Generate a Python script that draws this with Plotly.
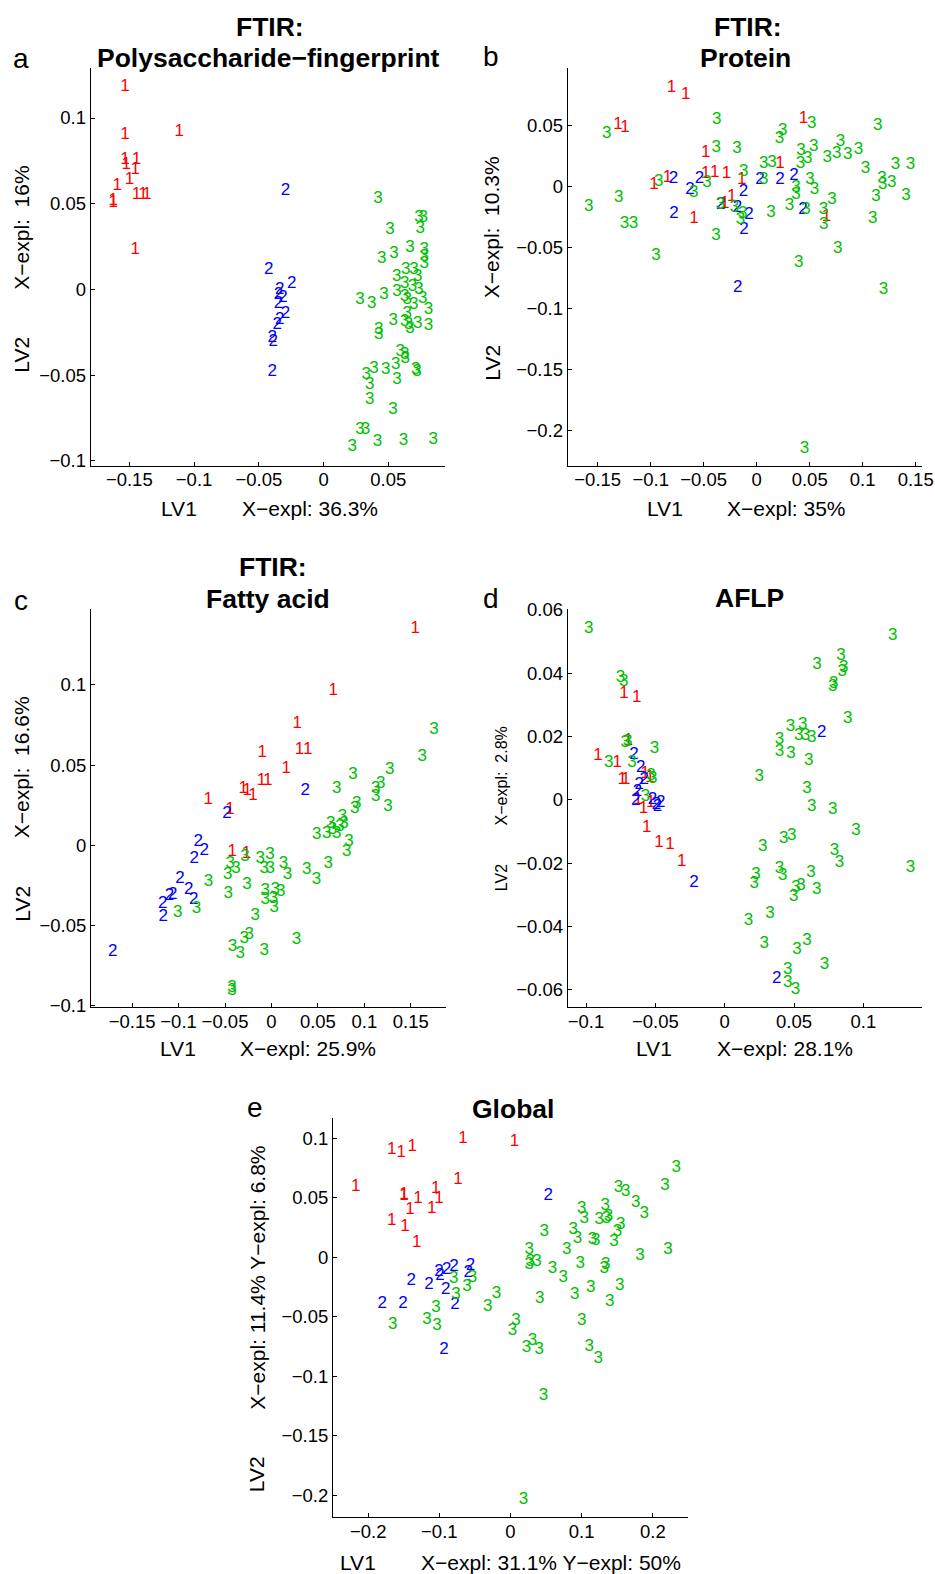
import plotly.graph_objects as go

W, H = 935, 1574

# ---------------- data (LV1, LV2 scores per class) ----------------
# Panel a: FTIR Polysaccharide-fingerprint
a1x = [-0.157, -0.157, -0.115, -0.157, -0.156, -0.148, -0.149, -0.1535, -0.163, -0.166, -0.166, -0.148, -0.143, -0.140, -0.149]
a1y = [0.118, 0.090, 0.092, 0.0754, 0.073, 0.0754, 0.0696, 0.0637, 0.0604, 0.0505, 0.052, 0.055, 0.055, 0.055, 0.0229]
a2x = [-0.033, -0.0459, -0.0283, -0.0374, -0.0385, -0.0385, -0.033, -0.0374, -0.0395, -0.0433, -0.0425, -0.0433, -0.035]
a2y = [0.0575, 0.0117, 0.0035, -0.0004, -0.0033, -0.0082, -0.014, -0.0179, -0.0208, -0.028, -0.0305, -0.048, -0.005]
a3x = [0.0384, 0.070, 0.0734, 0.071, 0.0477, 0.0631, 0.0507, 0.0412, 0.074, 0.074, 0.074, 0.0598, 0.0662, 0.0529, 0.069,
       0.059, 0.065, 0.053, 0.070, 0.043, 0.0245, 0.0335, 0.059, 0.061, 0.073, 0.066, 0.0773, 0.061, 0.0502, 0.059, 0.062,
       0.063, 0.069, 0.0773, 0.039, 0.039, 0.0555, 0.059, 0.0595, 0.052, 0.0353, 0.0444, 0.0676, 0.0685, 0.0293, 0.032,
       0.053, 0.032, 0.050, 0.0245, 0.0288, 0.0185, 0.038, 0.058, 0.081]
a3y = [0.053, 0.042, 0.042, 0.0356, 0.035, 0.0245, 0.021, 0.018, 0.023, 0.019, 0.015, 0.0117, 0.0117, 0.0074, 0.0074,
       0.0035, 0.0016, -0.0014, -0.0004, -0.0033, -0.0062, -0.0086, -0.0043, -0.0062, -0.0052, -0.0091, -0.0117, -0.014,
       -0.0185, -0.0189, -0.0208, -0.0227, -0.0202, -0.0214, -0.0237, -0.0262, -0.0363, -0.0383, -0.0402, -0.0437, -0.046,
       -0.0466, -0.047, -0.048, -0.05, -0.0558, -0.0529, -0.0645, -0.070, -0.082, -0.082, -0.092, -0.0888, -0.088, -0.0878]

# Panel b: FTIR Protein
b1x = [-0.0849, -0.0714, -0.1352, -0.1286, 0.0396, -0.0525, -0.0525, -0.044, -0.033, -0.0186, -0.0887, -0.1013, 0.0176, -0.028, -0.0346, -0.0635, 0.0613]
b1y = [0.0812, 0.0749, 0.0503, 0.0484, 0.0553, 0.0279, 0.0107, 0.0115, 0.0107, 0.0052, 0.0071, 0.0011, 0.0189, -0.0085, -0.014, -0.0263, -0.0249]
b2x = [-0.083, -0.0585, -0.0673, -0.0824, -0.0013, 0.0176, 0.0308, -0.017, -0.0384, -0.0226, -0.0116, -0.0164, 0.0393, -0.0223]
b2y = [0.0066, 0.006, -0.0025, -0.0222, 0.0052, 0.0052, 0.0088, -0.0044, -0.0153, -0.018, -0.0235, -0.0358, -0.0189, -0.0829]
b3x = [-0.1459, -0.0421, -0.0427, -0.023, 0.0475, 0.1097, 0.0201, 0.017, 0.0374, 0.0494, 0.0437, 0.0368, 0.0745, 0.062,
       0.0711, 0.0814, 0.0915, 0.0022, 0.0101, 0.0981, 0.1264, 0.1406, -0.0167, -0.0969, -0.0513, -0.0638, 0.0022, 0.0459,
       0.05, 0.0327, 0.0327, 0.1138, 0.1145, 0.123, 0.1082, 0.1365, -0.1346, -0.1629, -0.1292, -0.1208, -0.0387, -0.0255,
       -0.0176, -0.0198, 0.0091, 0.0264, 0.0421, 0.0585, 0.0588, 0.0667, 0.105, -0.0428, -0.0994, 0.072, 0.0352, 0.1151, 0.0406]
b3y = [0.0435, 0.0544, 0.0317, 0.0304, 0.0511, 0.0495, 0.0457, 0.0386, 0.0293, 0.0325, 0.023, 0.0183, 0.0367, 0.0238,
       0.0265, 0.0257, 0.0298, 0.0189, 0.0197, 0.0148, 0.0175, 0.0175, 0.012, 0.0038, 0.0025, -0.0057, 0.0052, 0.0052,
       -0.0025, -0.0016, -0.0071, 0.0066, 0.0011, 0.0033, -0.0085, -0.0079, -0.0098, -0.0167, -0.0304, -0.0304, -0.0153,
       -0.0172, -0.0222, -0.0276, -0.0216, -0.0161, -0.0189, -0.0194, -0.0317, -0.0112, -0.0263, -0.0408, -0.0572, -0.0509,
       -0.0624, -0.0845, -0.215]

# Panel c: FTIR Fatty acid
c1x = [0.1498, 0.0613, 0.0226, -0.0151, 0.0251, 0.034, 0.0108, -0.0158, -0.009, -0.0355, -0.0312, -0.0251, -0.0731, -0.0498, -0.0473, -0.0319]
c1y = [0.1353, 0.0963, 0.0757, 0.058, 0.0595, 0.0595, 0.048, 0.0403, 0.0403, 0.0356, 0.0341, 0.031, 0.0283, 0.0225, -0.004, -0.005]
c2x = [0.0312, -0.053, -0.0839, -0.0774, -0.0882, -0.1036, -0.0943, -0.1115, -0.115, -0.1222, -0.0889, -0.1215, -0.176]
c2y = [0.0341, 0.02, 0.0023, -0.0033, -0.0081, -0.0206, -0.0279, -0.031, -0.0316, -0.0362, -0.0341, -0.0445, -0.0663]
c3x = [0.1699, 0.1573, 0.1222, 0.1125, 0.1072, 0.1072, 0.1204, 0.0828, 0.0652, 0.0867, 0.0846, 0.0713, 0.0731, 0.0688,
       0.0588, 0.0606, 0.0652, 0.0545, 0.0437, 0.0785, 0.076, -0.0068, -0.0172, -0.0337, -0.0495, -0.0434, -0.0129, -0.0065,
       0.0079, 0.0122, 0.033, 0.0434, 0.0559, -0.0523, -0.0728, -0.0315, -0.0516, -0.0118, 0.005, -0.0011, -0.0118, -0.0029,
       -0.0022, -0.1061, -0.0857, -0.0226, -0.029, -0.0344, -0.047, -0.0387, -0.0129, 0.0219, -0.0477, -0.0477]
c3y = [0.0719, 0.0553, 0.047, 0.0387, 0.0356, 0.0304, 0.0241, 0.0439, 0.0356, 0.0262, 0.0231, 0.0179, 0.0137, 0.0116,
       0.0137, 0.0095, 0.0075, 0.0075, 0.0064, 0.0023, -0.004, -0.006, -0.0081, -0.0071, -0.0112, -0.0143, -0.0143, -0.0143,
       -0.0112, -0.0185, -0.0154, -0.0212, -0.0112, -0.0185, -0.0227, -0.0247, -0.0299, -0.0285, -0.0289, -0.0274, -0.0337,
       -0.0331, -0.0387, -0.042, -0.0393, -0.0441, -0.0559, -0.058, -0.0632, -0.0674, -0.0657, -0.059, -0.0886, -0.0906]

# Panel d: AFLP
d1x = [-0.076, -0.0668, -0.0947, -0.0808, -0.0728, -0.0772, -0.0748, -0.0608, -0.0572, -0.0659, -0.062, -0.0567, -0.0596, -0.0507, -0.0428, -0.0344]
d1y = [0.0334, 0.0324, 0.0139, 0.0118, 0.0186, 0.0065, 0.0065, 0.0084, 0.0071, 0.0, -0.0029, -0.0008, -0.0089, -0.0135, -0.0142, -0.0195]
d2x = [-0.0688, -0.0639, -0.0615, -0.0651, -0.0663, -0.0675, -0.0555, -0.0526, -0.0495, -0.0519, -0.0255, 0.0666, 0.0341]
d2y = [0.0142, 0.0102, 0.0065, 0.0047, 0.0026, -0.0003, 0.0, -0.0014, -0.0008, -0.0021, -0.0261, 0.0211, -0.0566]
d3x = [-0.1014, -0.0786, -0.0762, -0.0733, -0.0752, -0.0541, -0.087, -0.0702, -0.0565, -0.0553, -0.0606, 0.1178, 0.0805,
       0.0825, 0.0813, 0.0632, 0.0752, 0.0745, 0.0853, 0.044, 0.0529, 0.05, 0.0548, 0.0594, 0.0361, 0.0361, 0.0445, 0.0572,
       0.0216, 0.056, 0.0594, 0.0745, 0.0913, 0.0392, 0.045, 0.024, 0.0757, 0.0793, 0.1305, 0.0361, 0.0385, 0.0192, 0.018,
       0.0589, 0.0481, 0.0517, 0.0464, 0.063, 0.0293, 0.0137, 0.0252, 0.056, 0.0488, 0.0685, 0.0421, 0.0421, 0.0476]
d3y = [0.0539, 0.0387, 0.0372, 0.0184, 0.0179, 0.0163, 0.0118, 0.0118, 0.0076, 0.0068, 0.0011, 0.0518, 0.0455, 0.0416,
       0.0405, 0.0426, 0.0368, 0.0358, 0.0255, 0.0232, 0.0237, 0.0202, 0.0202, 0.0195, 0.0189, 0.0153, 0.0147, 0.0123,
       0.0072, 0.0035, -0.0023, -0.0032, -0.0097, -0.0124, -0.0114, -0.0147, -0.016, -0.0198, -0.0213, -0.0216, -0.024,
       -0.0237, -0.0265, -0.0229, -0.0279, -0.0272, -0.0305, -0.0284, -0.0358, -0.0381, -0.0455, -0.0444, -0.0472, -0.0521,
       -0.0535, -0.0579, -0.06]

# Panel e: Global
e1x = [-0.2241, -0.1736, -0.16, -0.1446, -0.0734, -0.0009, -0.0805, -0.1563, -0.1563, -0.1366, -0.1118, -0.1071, -0.1174, -0.1478, -0.1736, -0.1549, -0.1385]
e1y = [0.0595, 0.0903, 0.088, 0.0931, 0.1001, 0.0973, 0.0656, 0.053, 0.0519, 0.0496, 0.058, 0.0491, 0.0412, 0.0398, 0.0306, 0.0258, 0.0126]
e2x = [0.0463, -0.0861, -0.0627, -0.0964, -0.1071, -0.1057, -0.066, -0.146, -0.1212, -0.0978, -0.1867, -0.1577, -0.0847, -0.1001]
e2y = [0.0516, -0.0079, -0.0073, -0.0101, -0.0121, -0.0157, -0.0126, -0.0199, -0.0233, -0.0275, -0.0393, -0.0387, -0.0395, -0.0774]
e3x = [0.2264, 0.2105, 0.145, 0.1553, 0.1694, 0.1811, 0.0936, 0.0968, 0.1263, 0.131, 0.1179, 0.1282, 0.1483, 0.1436,
       0.1389, 0.0407, 0.0814, 0.0875, 0.1085, 0.1132, 0.0725, 0.2147, 0.1754, 0.0196, 0.0211, 0.0304, 0.0196, 0.0912,
       0.1273, 0.1249, 0.0524, 0.0674, 0.1469, 0.1062, 0.0837, 0.1329, 0.0346, -0.0262, -0.0388, -0.0678, -0.0599, -0.0865,
       -0.0833, -0.1113, -0.124, -0.1099, -0.1722, 0.0009, -0.0037, 0.0243, 0.0159, 0.0337, 0.0936, 0.1039, 0.1165, 0.0398, 0.0117]
e3y = [0.0757, 0.06, 0.0589, 0.0552, 0.0463, 0.037, 0.0412, 0.0328, 0.0435, 0.0342, 0.0314, 0.0328, 0.0272, 0.0216,
       0.0132, 0.0216, 0.023, 0.016, 0.0146, 0.0137, 0.0062, 0.0062, 0.0011, 0.0067, -0.0036, -0.0036, -0.0064, -0.0056,
       -0.0064, -0.0093, -0.0098, -0.0171, -0.0238, -0.0255, -0.0317, -0.0373, -0.0345, -0.0303, -0.0415, -0.0247, -0.0171,
       -0.0177, -0.0317, -0.0423, -0.0527, -0.0575, -0.0569, -0.0536, -0.062, -0.0704, -0.076, -0.078, -0.0536, -0.0752,
       -0.0855, -0.1167, -0.2036]

# Tick values per panel
a_xt = [-0.15, -0.1, -0.05, 0, 0.05]
a_yt = [-0.1, -0.05, 0, 0.05, 0.1]
b_xt = [-0.15, -0.1, -0.05, 0, 0.05, 0.1, 0.15]
b_yt = [-0.2, -0.15, -0.1, -0.05, 0, 0.05]
c_xt = [-0.15, -0.1, -0.05, 0, 0.05, 0.1, 0.15]
c_yt = [-0.1, -0.05, 0, 0.05, 0.1]
d_xt = [-0.1, -0.05, 0, 0.05, 0.1]
d_yt = [-0.06, -0.04, -0.02, 0, 0.02, 0.04, 0.06]
e_xt = [-0.2, -0.1, 0, 0.1, 0.2]
e_yt = [-0.2, -0.15, -0.1, -0.05, 0, 0.05, 0.1]

class_labels = ["1", "2", "3"]
class_colors = ["rgb(255,0,0)", "rgb(0,0,255)", "rgb(0,190,0)"]

FONT = "Liberation Sans, Arial, Helvetica, sans-serif"


def fmt(v):
    s = f"{v:g}"
    return s.replace("-", "\u2212")


def px(x):
    return x / W


def py(y):
    return 1 - y / H


panels = [
    dict(name="a", data=[(a1x, a1y), (a2x, a2y), (a3x, a3y)], xt=a_xt, yt=a_yt,
         xr=[-0.1798, 0.094], yr=[-0.103, 0.129], box=(90.7, 445.3, 68.3, 466.0)),
    dict(name="b", data=[(b1x, b1y), (b2x, b2y), (b3x, b3y)], xt=b_xt, yt=b_yt,
         xr=[-0.1783, 0.1557], yr=[-0.2292, 0.0968], box=(567.7, 921.7, 68.3, 465.7)),
    dict(name="c", data=[(c1x, c1y), (c2x, c2y), (c3x, c3y)], xt=c_xt, yt=c_yt,
         xr=[-0.1943, 0.1876], yr=[-0.101, 0.1472], box=(91.0, 445.7, 609.3, 1007.3)),
    dict(name="d", data=[(d1x, d1y), (d2x, d2y), (d3x, d3y)], xt=d_xt, yt=d_yt,
         xr=[-0.1132, 0.1423], yr=[-0.0655, 0.0602], box=(567.7, 922.0, 609.3, 1007.3)),
    dict(name="e", data=[(e1x, e1y), (e2x, e2y), (e3x, e3y)], xt=e_xt, yt=e_yt,
         xr=[-0.2494, 0.249], yr=[-0.2187, 0.117], box=(333.0, 687.7, 1118.3, 1517.3)),
]

fig = go.Figure()
layout = dict(
    width=W, height=H, margin=dict(l=0, r=0, t=0, b=0, autoexpand=False), autosize=False,
    paper_bgcolor="white", plot_bgcolor="white", showlegend=False,
    font=dict(family=FONT, color="black"),
)

for i, p in enumerate(panels):
    k = "" if i == 0 else str(i + 1)
    xa, ya = "x" + k, "y" + k
    for (xs, ys), lab, col in zip(p["data"], class_labels, class_colors):
        fig.add_trace(go.Scatter(
            x=xs, y=ys, mode="text", text=[lab] * len(xs),
            textposition="middle right", cliponaxis=False,
            textfont=dict(family=FONT, size=17, color=col),
            xaxis=xa, yaxis=ya, hoverinfo="skip"))
    x0, x1, y0, y1 = p["box"]
    common = dict(showgrid=False, zeroline=False, showline=True, linecolor="black", linewidth=1,
                  ticks="inside", ticklen=4, tickcolor="black", tickwidth=1, automargin=False,
                  tickfont=dict(family=FONT, size=18.5, color="black"), fixedrange=True)
    layout["xaxis" + k] = dict(common, domain=[px(x0), px(x1)], range=p["xr"], anchor=ya,
                               ticklabelstandoff=-3,
                               tickmode="array", tickvals=p["xt"], ticktext=[fmt(v) for v in p["xt"]])
    layout["yaxis" + k] = dict(common, domain=[py(y1), py(y0)], range=p["yr"], anchor=xa,
                               tickmode="array", tickvals=p["yt"], ticktext=[fmt(v) for v in p["yt"]])

fig.update_layout(**layout)

M = "\u2212"
ann = []


def add(text, x, y, size, bold=False, angle=0):
    ann.append(dict(text=("<b>%s</b>" % text) if bold else text, x=px(x), y=py(y),
                    xref="paper", yref="paper", xanchor="center", yanchor="middle",
                    showarrow=False, textangle=angle,
                    font=dict(family=FONT, size=size, color="black")))


TS = 26.5
# titles
add("FTIR:", 270, 26.7, TS, True)
add("Polysaccharide" + M + "fingerprint", 268, 58.3, TS, True)
add("FTIR:", 748, 26.7, TS, True)
add("Protein", 745, 58.3, TS, True)
add("FTIR:", 272.7, 566.7, TS, True)
add("Fatty acid", 268.3, 599.3, TS, True)
add("AFLP", 749.3, 598.3, TS, True)
add("Global", 513.3, 1109, TS, True)
# panel letters
add("a", 20.7, 58.3, 28)
add("b", 490.7, 56.7, 28)
add("c", 20.7, 600, 28)
add("d", 490.7, 598.3, 28)
add("e", 255, 1107.7, 28)
# x labels
add("LV1", 179, 508, 21)
add("X" + M + "expl: 36.3%", 309.5, 508, 21)
add("LV1", 665.3, 508, 21)
add("X" + M + "expl: 35%", 786.7, 508, 21)
add("LV1", 177.5, 1048, 21)
add("X" + M + "expl: 25.9%", 308, 1048, 21)
add("LV1", 654, 1048.3, 21)
add("X" + M + "expl: 28.1%", 784.7, 1048.3, 21)
add("LV1", 358, 1562.3, 21)
add("X" + M + "expl: 31.1% Y" + M + "expl: 50%", 550.5, 1562.3, 21)
# y labels
add("LV2", 21.7, 355, 21, angle=-90)
add("X" + M + "expl:  16%", 21.7, 228, 21, angle=-90)
add("LV2", 491.7, 363, 21, angle=-90)
add("X" + M + "expl:  10.3%", 491.7, 227.5, 21, angle=-90)
add("LV2", 21.7, 904, 21, angle=-90)
add("X" + M + "expl:  16.6%", 21.7, 767.5, 21, angle=-90)
add("LV2", 501.7, 877.5, 16, angle=-90)
add("X" + M + "expl:  2.8%", 501.7, 775.7, 16, angle=-90)
add("LV2", 256.7, 1474.5, 21, angle=-90)
add("X" + M + "expl: 11.4% Y" + M + "expl: 6.8%", 256.7, 1278, 21, angle=-90)

fig.update_layout(annotations=ann)
fig.write_html("out.html")
